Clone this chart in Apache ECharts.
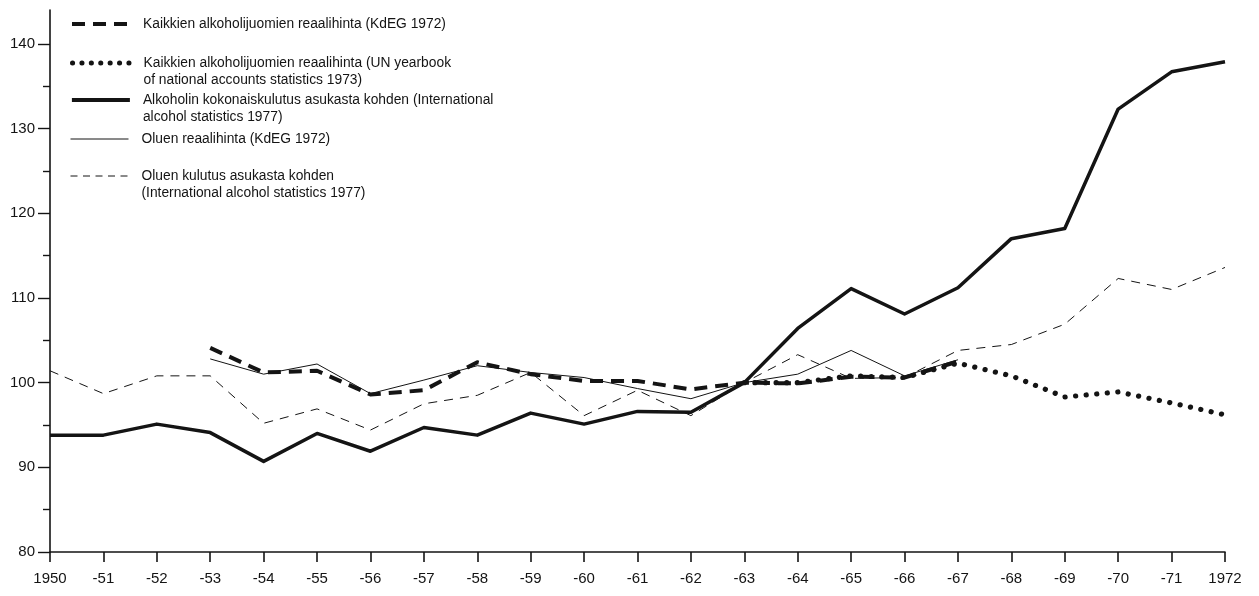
<!DOCTYPE html>
<html>
<head>
<meta charset="utf-8">
<script src="https://cdn.jsdelivr.net/npm/echarts@6/dist/echarts.min.js"></script>
<style>
html,body{margin:0;padding:0;background:#fff;}
#chart{width:1259px;height:596px;}
</style>
</head>
<body>
<div id="chart"></div>
<script>
var years = ['1950','-51','-52','-53','-54','-55','-56','-57','-58','-59','-60','-61','-62','-63','-64','-65','-66','-67','-68','-69','-70','-71','1972'];

var allPriceKdEG = [null,null,null,104.1,101.2,101.4,98.6,99.1,102.4,101.0,100.2,100.2,99.2,100,99.9,100.7,100.6,102.5,null,null,null,null,null];
var allPriceUN = [null,null,null,null,null,null,null,null,null,null,null,null,null,100,100.0,100.8,100.6,102.3,100.8,98.3,98.9,97.6,96.2];
var alcoholConsumption = [93.8,93.8,95.1,94.1,90.7,94.0,91.9,94.7,93.8,96.4,95.1,96.6,96.5,100,106.4,111.1,108.1,111.2,117.0,118.2,132.3,136.7,137.9];
var beerPrice = [null,null,null,102.8,101.0,102.2,98.7,100.3,102.0,101.2,100.6,99.3,98.1,100,101.0,103.8,100.8,102.7,null,null,null,null,null];
var beerConsumption = [101.4,98.7,100.8,100.8,95.2,96.9,94.4,97.5,98.5,101.2,96.1,99.1,96.1,100,103.3,100.5,100.6,103.8,104.5,106.9,112.3,111.0,113.6];

var majorTicks = [80,90,100,110,120,130,140];
var minorTicks = [85,95,105,115,125,135];

var names = [
  'Kaikkien alkoholijuomien reaalihinta (KdEG 1972)',
  'Kaikkien alkoholijuomien reaalihinta (UN yearbook\nof national accounts statistics 1973)',
  'Alkoholin kokonaiskulutus asukasta kohden (International\nalcohol statistics 1977)',
  'Oluen reaalihinta (KdEG 1972)',
  'Oluen kulutus asukasta kohden\n(International alcohol statistics 1977)'
];

var ink = '#141414';
var font = '"Liberation Sans", Arial, Helvetica, sans-serif';

var styles = [
  {width: 4, type: [13, 8], cap: 'butt'},
  {width: 5.2, type: [0.1, 10.5], cap: 'round'},
  {width: 3.5, type: 'solid', cap: 'butt'},
  {width: 1, type: 'solid', cap: 'butt'},
  {width: 1, type: [9, 7], cap: 'butt'}
];
var legendStyles = [
  {width: 4, type: [13, 8], cap: 'butt'},
  {width: 5, type: [0.1, 9.3], cap: 'round'},
  {width: 3.8, type: 'solid', cap: 'butt'},
  {width: 1, type: 'solid', cap: 'butt'},
  {width: 1, type: [7, 5.5], cap: 'butt'}
];
var legendTops = [15.5, 37.5, 74.5, 130.5, 150.5];
var dataSets = [allPriceKdEG, allPriceUN, alcoholConsumption, beerPrice, beerConsumption];

var series = dataSets.map(function (d, i) {
  return {
    name: names[i],
    type: 'line',
    data: d,
    symbol: 'none',
    symbolSize: 0,
    connectNulls: false,
    lineStyle: {color: ink, width: styles[i].width, type: styles[i].type, cap: styles[i].cap, join: 'round'},
    itemStyle: {color: ink},
    z: 10 - i,
    silent: true
  };
});

var legends = names.map(function (n, i) {
  return {
    show: true,
    orient: 'vertical',
    left: 70,
    top: legendTops[i],
    padding: 0,
    itemWidth: 58,
    itemHeight: 14,
    itemGap: 16,
    selectedMode: false,
    itemStyle: {opacity: 0, borderWidth: 0},
    lineStyle: {color: ink, width: legendStyles[i].width, type: legendStyles[i].type, cap: legendStyles[i].cap},
    formatter: function (name) {
      // two-line entries: keep the first line level with the key line
      return name.indexOf('\n') >= 0 ? ' \n' + name : name;
    },
    data: [{
      name: n,
      textStyle: {
        color: ink, fontSize: 13.8, fontFamily: font, lineHeight: 17,
        padding: [0, 0, 0, 8]
      }
    }]
  };
});

var option = {
  backgroundColor: '#ffffff',
  animation: false,
  textStyle: {fontFamily: font, color: ink},
  legend: legends,
  grid: {left: 50, right: 34, top: 10, bottom: 44, containLabel: false},
  xAxis: {
    type: 'category',
    data: years,
    boundaryGap: false,
    axisLine: {show: true, lineStyle: {color: ink, width: 1.6}},
    axisTick: {show: true, length: 10, inside: false, lineStyle: {color: ink, width: 1.6}},
    axisLabel: {color: ink, fontSize: 15, fontFamily: font, margin: 19, interval: 0},
    splitLine: {show: false}
  },
  yAxis: [{
    type: 'value',
    min: 80,
    max: 144,
    interval: 10,
    axisLine: {show: true, onZero: false, lineStyle: {color: ink, width: 1.6}},
    axisTick: {show: true, length: 12, customValues: majorTicks, lineStyle: {color: ink, width: 1.4}},
    axisLabel: {color: ink, fontSize: 15, fontFamily: font, margin: 15, customValues: majorTicks},
    splitLine: {show: false}
  }, {
    type: 'value',
    min: 80,
    max: 144,
    interval: 10,
    position: 'left',
    axisLine: {show: false},
    axisTick: {show: true, length: 7, customValues: minorTicks, lineStyle: {color: ink, width: 1.4}},
    axisLabel: {show: false},
    splitLine: {show: false}
  }],
  series: series
};

var chart = echarts.init(document.getElementById('chart'), null, {renderer: 'canvas'});
chart.setOption(option);
</script>
</body>
</html>
